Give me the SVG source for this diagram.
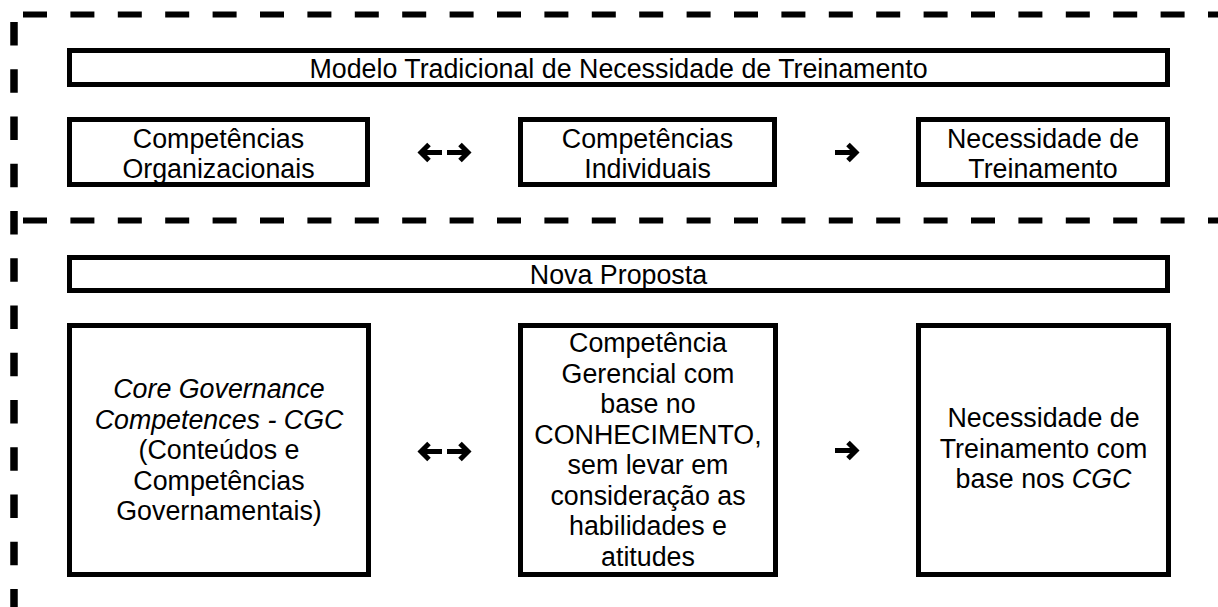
<svg xmlns="http://www.w3.org/2000/svg" width="1218" height="607" viewBox="0 0 1218 607">
<style>
.box{fill:#fff;stroke:#000;stroke-width:5}
.t{font-family:"Liberation Sans",Arial,sans-serif;font-size:26.8px;fill:#000;text-anchor:middle}
.i{font-style:italic}
.dh{stroke:#000;stroke-width:6;stroke-dasharray:24 23.4;fill:none}
.dv{stroke:#000;stroke-width:7.5;stroke-dasharray:23.5 23.75;fill:none}
.arr{stroke:#000;stroke-width:5;fill:none;stroke-linejoin:miter;stroke-linecap:butt}
</style>
<rect width="1218" height="607" fill="#fff"/>
<g id="frame">
<line class="dh" x1="23" y1="14.5" x2="1218" y2="14.5"/>
<line class="dh" x1="23" y1="220.5" x2="1218" y2="220.5"/>
<line class="dv" x1="14" y1="22" x2="14" y2="607"/>
</g>
<g id="title-tradicional">
<rect class="box" x="69.5" y="50.5" width="1098" height="34"/>
<text class="t" x="618.5" y="77.5">Modelo Tradicional de Necessidade de Treinamento</text>
</g>
<g id="comp-org">
<rect class="box" x="69.5" y="119.5" width="298" height="65"/>
<text class="t" x="218.5" y="147.5">Competências</text>
<text class="t" x="218.5" y="177.5">Organizacionais</text>
</g>
<g id="comp-ind">
<rect class="box" x="520.5" y="119.5" width="254" height="65"/>
<text class="t" x="647.5" y="147.5">Competências</text>
<text class="t" x="647.5" y="177.5">Individuais</text>
</g>
<g id="nec-trein">
<rect class="box" x="918.5" y="119.5" width="249" height="65"/>
<text class="t" x="1043" y="147.5">Necessidade de</text>
<text class="t" x="1043" y="177.5">Treinamento</text>
</g>
<g id="title-nova">
<rect class="box" x="69.5" y="257.5" width="1098" height="33"/>
<text class="t" x="618.5" y="283.5">Nova Proposta</text>
</g>
<g id="cgc">
<rect class="box" x="69.5" y="325.5" width="299" height="249"/>
<text class="t i" x="219" y="398">Core Governance</text>
<text class="t i" x="219" y="428.5">Competences - CGC</text>
<text class="t" x="219" y="459">(Conteúdos e</text>
<text class="t" x="219" y="489.5">Competências</text>
<text class="t" x="219" y="520">Governamentais)</text>
</g>
<g id="comp-gerencial">
<rect class="box" x="520.5" y="325.5" width="255" height="249"/>
<text class="t" x="648" y="352">Competência</text>
<text class="t" x="648" y="382.5">Gerencial com</text>
<text class="t" x="648" y="413">base no</text>
<text class="t" x="648" y="443.5">CONHECIMENTO,</text>
<text class="t" x="648" y="474">sem levar em</text>
<text class="t" x="648" y="504.5">consideração as</text>
<text class="t" x="648" y="535">habilidades e</text>
<text class="t" x="648" y="565.5">atitudes</text>
</g>
<g id="nec-trein-cgc">
<rect class="box" x="918.5" y="325.5" width="250" height="249"/>
<text class="t" x="1043.5" y="427">Necessidade de</text>
<text class="t" x="1043.5" y="457.5">Treinamento com</text>
<text class="t" x="1043.5" y="488">base nos <tspan class="i">CGC</tspan></text>
</g>
<g id="connectors">
<path class="arr" d="M421 152.5H442M429 144.5L421 152.5L429 160.5"/>
<path class="arr" d="M447 152.5H468M460 144.5L468 152.5L460 160.5"/>
<path class="arr" d="M835 152.5H856M848 144.5L856 152.5L848 160.5"/>
<path class="arr" d="M421 451.5H442M429 443.5L421 451.5L429 459.5"/>
<path class="arr" d="M447 451.5H468M460 443.5L468 451.5L460 459.5"/>
<path class="arr" d="M835 450.5H856M848 442.5L856 450.5L848 458.5"/>
</g>
</svg>
